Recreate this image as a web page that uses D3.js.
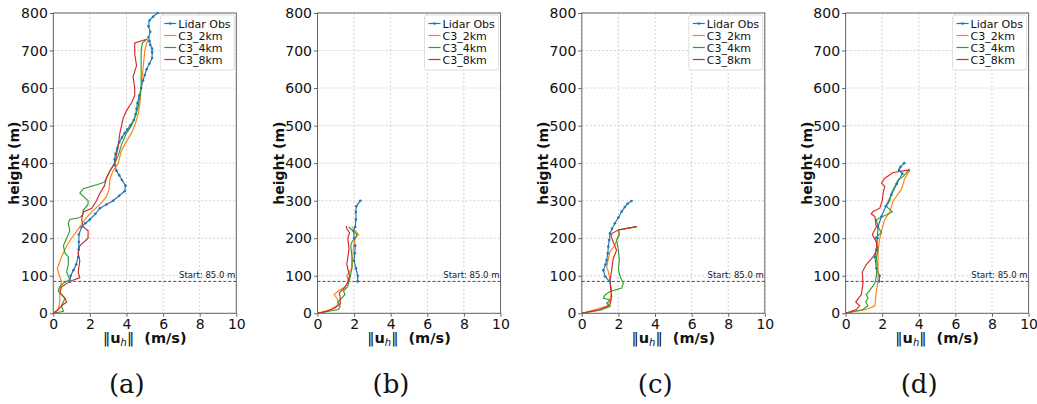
<!DOCTYPE html>
<html>
<head>
<meta charset="utf-8">
<script src="https://cdn.jsdelivr.net/npm/d3@7"></script>
<style>
  body { margin: 0; background: #fff; }
  svg text { font-family: "DejaVu Sans", sans-serif; }
</style>
</head>
<body>
<div id="chart"></div>
<script>
var svgWidth = 1037
var svgHeight = 404

// each point is [wind speed (m/s), height (m)]
var obsA = [[0.91,84],[0.95,100],[1.1,115],[1.25,130],[1.36,150],[1.38,170],[1.4,190],[1.4,210],[1.55,230],[1.75,240],[2.0,250],[2.3,265],[2.55,280],[2.9,290],[3.27,300],[3.6,313],[3.9,325],[3.95,340],[3.75,355],[3.6,368],[3.45,380],[3.36,395],[3.35,410],[3.4,425],[3.5,440],[3.6,455],[3.75,468],[3.9,480],[4.05,490],[4.2,500],[4.4,515],[4.5,530],[4.55,545],[4.6,560],[4.7,580],[4.8,600],[4.9,620],[5.0,635],[5.1,650],[5.25,665],[5.4,680],[5.4,695],[5.4,705],[5.3,715],[5.25,725],[5.2,735],[5.3,750],[5.2,765],[5.25,780],[5.45,790],[5.7,800]]
var c2A = [[0,0],[0.27,10],[0.35,30],[0.36,60],[0.45,85],[0.33,100],[0.22,120],[0.45,150],[0.73,180],[1.0,200],[1.45,230],[1.73,250],[2.1,270],[2.55,290],[2.9,310],[3.05,330],[3.1,360],[3.27,380],[3.55,400],[3.7,430],[3.9,450],[4.27,480],[4.45,500],[4.64,530],[4.73,560],[4.8,600],[4.9,650],[5.0,700],[5.1,720],[5.18,730]]
var c4A = [[0,0],[0.55,5],[0.45,20],[0.64,40],[0.27,60],[0.33,70],[0.55,80],[0.9,90],[0.73,110],[0.82,130],[0.82,150],[0.64,160],[0.55,180],[0.73,200],[0.9,220],[0.82,240],[0.9,250],[1.45,255],[1.6,262],[1.64,275],[1.9,290],[1.9,300],[1.45,320],[1.64,332],[2.55,345],[2.8,350],[2.9,360],[3.1,380],[3.36,400],[3.55,420],[3.73,450],[4.0,480],[4.27,500],[4.45,520],[4.64,550],[4.8,600],[4.8,650],[4.8,700],[4.87,720],[5.1,730]]
var c8A = [[0,0],[0.27,10],[0.45,20],[0.73,30],[0.64,40],[0.36,55],[0.45,70],[0.9,85],[1.45,95],[1.36,110],[1.45,140],[1.36,160],[1.45,180],[1.9,200],[1.9,220],[1.64,230],[1.55,250],[1.64,270],[2.1,280],[2.36,300],[2.55,320],[2.8,340],[2.9,360],[3.1,380],[3.36,400],[3.45,420],[3.55,450],[3.64,480],[3.73,500],[3.82,520],[4.0,540],[4.27,560],[4.45,580],[4.45,600],[4.36,630],[4.55,660],[4.45,690],[4.45,710],[4.45,720],[5.1,730]]

var obsB = [[2.19,85],[2.2,100],[2.1,120],[2.0,140],[2.04,160],[2.06,180],[2.0,200],[1.97,220],[2.06,230],[2.1,250],[2.1,270],[2.12,285],[2.34,300]]
var c2B = [[0,0],[0.7,10],[1.06,20],[1.15,30],[1.06,40],[0.91,50],[1.15,60],[1.5,70],[1.7,85],[1.6,100],[1.88,120],[1.93,150],[1.97,180],[2.06,200],[2.24,210],[2.06,220],[1.88,230]]
var c4B = [[0,0],[1.15,10],[1.24,20],[1.11,30],[1.5,50],[1.42,60],[1.64,70],[1.75,90],[1.88,120],[1.88,150],[1.82,180],[1.88,190],[2.06,200],[2.15,210],[1.93,220],[1.7,230]]
var c8B = [[0,0],[0.5,5],[0.97,15],[1.24,25],[1.24,40],[1.2,55],[1.42,65],[1.64,80],[1.75,100],[1.6,130],[1.66,150],[1.72,170],[1.66,200],[1.75,215],[1.6,225],[1.57,232]]

var obsC = [[1.54,84],[1.27,98],[1.18,115],[1.3,130],[1.36,142],[1.42,160],[1.45,178],[1.5,195],[1.54,213],[1.65,225],[1.81,240],[2.0,255],[2.18,271],[2.35,283],[2.5,292],[2.72,299]]
var c2C = [[0,0],[0.73,10],[1.45,20],[1.55,40],[1.64,60],[1.58,75],[1.54,89],[1.45,111],[1.36,124],[1.45,145],[1.54,164],[1.81,182],[1.95,200],[2.05,212],[2.0,222],[3.0,231]]
var c4C = [[0,0],[1.0,8],[1.54,18],[1.36,27],[1.54,36],[1.18,40],[1.27,49],[1.54,58],[2.18,67],[2.27,80],[2.1,98],[2.0,115],[2.05,142],[2.0,168],[1.9,195],[2.05,209],[2.0,222],[3.0,231]]
var c8C = [[0,0],[1.0,10],[1.54,22],[1.63,44],[1.58,65],[1.54,84],[1.63,115],[1.72,146],[1.9,168],[1.72,190],[1.6,205],[1.65,213],[2.0,222],[3.0,231]]

var obsD = [[1.83,85],[1.86,100],[1.68,120],[1.6,150],[1.68,170],[1.74,200],[1.77,230],[1.96,258],[2.2,285],[2.5,315],[2.8,345],[3.1,372],[2.92,382],[3.0,390],[3.2,400]]
var c2D = [[0,0],[1.13,10],[1.6,20],[1.64,40],[1.68,60],[1.77,85],[1.77,120],[1.77,160],[1.83,190],[1.96,220],[2.14,250],[2.41,270],[2.6,300],[3.05,330],[3.24,360],[3.5,380]]
var c4D = [[0,0],[0.95,10],[1.22,20],[1.1,30],[1.22,40],[1.13,50],[1.3,60],[1.6,80],[1.68,100],[1.72,130],[1.68,150],[1.77,170],[1.68,190],[1.6,200],[1.96,215],[1.77,230],[1.68,250],[2.56,270],[2.23,285],[2.41,300],[2.5,320],[2.87,356],[3.14,364],[3.51,385]]
var c8D = [[0,0],[0.58,10],[0.77,20],[0.55,30],[0.86,50],[0.95,80],[0.91,110],[1.13,130],[1.5,150],[1.72,170],[1.68,190],[1.46,210],[1.68,230],[1.6,258],[1.4,265],[1.5,271],[1.87,280],[2.0,300],[2.05,320],[2.14,338],[1.96,347],[2.14,360],[2.6,375],[3.51,382]]

var panelLabels = ["(a)", "(b)", "(c)", "(d)"]
var seriesNames = ["Lidar Obs", "C3_2km", "C3_4km", "C3_8km"]
var seriesColors = ["#1f77b4", "#ff7f0e", "#2ca02c", "#d62728"]
var panelData = [
  [obsA, c2A, c4A, c8A],
  [obsB, c2B, c4B, c8B],
  [obsC, c2C, c4C, c8C],
  [obsD, c2D, c4D, c8D]
]
var xTicks = [0, 2, 4, 6, 8, 10]
var yTicks = [0, 100, 200, 300, 400, 500, 600, 700, 800]
var startHeight = 85

var panelLefts = [53.3, 317.5, 581.8, 845.6]
var plotWidth = 183
var plotTop = 13
var plotHeight = 300.3

var svg = d3.select("#chart")
  .append("svg")
  .attr("width", svgWidth)
  .attr("height", svgHeight)

var xScale = d3.scaleLinear().domain([0, 10]).range([0, plotWidth])
var yScale = d3.scaleLinear().domain([0, 800]).range([plotHeight, 0])

var line = d3.line()
  .x(d => xScale(d[0]))
  .y(d => yScale(d[1]))

panelData.forEach((series, p) => {
  var g = svg.append("g")
    .attr("transform", `translate(${panelLefts[p]}, ${plotTop})`)

  // grid
  g.append("g").selectAll("line")
    .data(xTicks)
    .enter().append("line")
    .attr("x1", d => xScale(d)).attr("x2", d => xScale(d))
    .attr("y1", 0).attr("y2", plotHeight)
    .attr("stroke", "#c8c8c8").attr("stroke-width", 0.8)
    .attr("stroke-dasharray", "2,2")
  g.append("g").selectAll("line")
    .data(yTicks)
    .enter().append("line")
    .attr("x1", 0).attr("x2", plotWidth)
    .attr("y1", d => yScale(d)).attr("y2", d => yScale(d))
    .attr("stroke", "#c8c8c8").attr("stroke-width", 0.8)
    .attr("stroke-dasharray", "2,2")

  // start line
  g.append("line")
    .attr("x1", 0).attr("x2", plotWidth)
    .attr("y1", yScale(startHeight)).attr("y2", yScale(startHeight))
    .attr("stroke", "#333").attr("stroke-width", 0.9)
    .attr("stroke-dasharray", "3,2")
  g.append("text")
    .attr("x", plotWidth - 1)
    .attr("y", yScale(startHeight) - 3)
    .attr("text-anchor", "end")
    .style("font-size", "8.5px")
    .attr("fill", "#222")
    .text(`Start: ${startHeight.toFixed(1)} m`)

  // series
  series.forEach((pts, i) => {
    g.append("path")
      .datum(pts)
      .attr("d", line)
      .attr("fill", "none")
      .attr("stroke", seriesColors[i])
      .attr("stroke-width", 1.15)
  })
  g.selectAll("circle.obs")
    .data(series[0])
    .enter().append("circle")
    .attr("cx", d => xScale(d[0]))
    .attr("cy", d => yScale(d[1]))
    .attr("r", 1.3)
    .attr("fill", seriesColors[0])

  // axes
  var bottomAxis = d3.axisBottom(xScale).tickValues(xTicks).tickSize(3.5).tickPadding(2)
  var leftAxis = d3.axisLeft(yScale).tickValues(yTicks).tickSize(3.5).tickPadding(2)
  var ax = g.append("g")
    .attr("transform", `translate(0, ${plotHeight})`)
    .call(bottomAxis)
  var ay = g.append("g").call(leftAxis)
  ;[ax, ay].forEach(a => {
    a.select(".domain").remove()
    a.selectAll("text").style("font-size", "14px").style("font-family", "DejaVu Sans").attr("fill", "#111")
    a.selectAll("line").attr("stroke", "#666")
  })

  g.append("rect")
    .attr("width", plotWidth).attr("height", plotHeight)
    .attr("fill", "none").attr("stroke", "#666").attr("stroke-width", 1)

  // legend
  var lg = g.append("g").attr("transform", `translate(${plotWidth - 76}, 2)`)
  lg.append("rect")
    .attr("width", 74).attr("height", 55).attr("rx", 2.5)
    .attr("fill", "#fff").attr("fill-opacity", 0.85)
    .attr("stroke", "#d6d6d6").attr("stroke-width", 0.8)
  seriesNames.forEach((name, i) => {
    var yy = 8.5 + i * 12
    lg.append("line")
      .attr("x1", 4).attr("x2", 16).attr("y1", yy).attr("y2", yy)
      .attr("stroke", seriesColors[i]).attr("stroke-width", 1.2)
    if (i === 0) {
      lg.append("circle").attr("cx", 10).attr("cy", yy).attr("r", 1.3).attr("fill", seriesColors[0])
    }
    lg.append("text")
      .attr("x", 18).attr("y", yy + 4)
      .style("font-size", "11px")
      .attr("fill", "#111")
      .text(name)
  })

  // axis labels
  var xl = g.append("text")
    .attr("x", plotWidth / 2)
    .attr("y", plotHeight + 30)
    .attr("text-anchor", "middle")
    .style("font-size", "14.5px")
    .style("font-weight", "bold")
    .attr("fill", "#111")
  xl.append("tspan").style("font-weight", "normal").text("\u2016")
  xl.append("tspan").text("u")
  xl.append("tspan").style("font-weight", "normal").style("font-style", "italic").style("font-size", "10px").attr("dy", 3).text("h")
  xl.append("tspan").style("font-weight", "normal").attr("dy", -3).text("\u2016")
  xl.append("tspan").text("\u00a0\u00a0(m/s)")

  g.append("text")
    .attr("transform", `translate(-34, ${plotHeight / 2}) rotate(-90)`)
    .attr("text-anchor", "middle")
    .style("font-size", "14px")
    .style("font-weight", "bold")
    .attr("fill", "#111")
    .text("height (m)")

  svg.append("text")
    .attr("x", panelLefts[p] + 73.5)
    .attr("y", 393)
    .attr("text-anchor", "middle")
    .style("font-family", "'DejaVu Serif', 'Liberation Serif', serif")
    .style("font-size", "26px")
    .attr("fill", "#111")
    .text(panelLabels[p])
})
</script>
</body>
</html>
